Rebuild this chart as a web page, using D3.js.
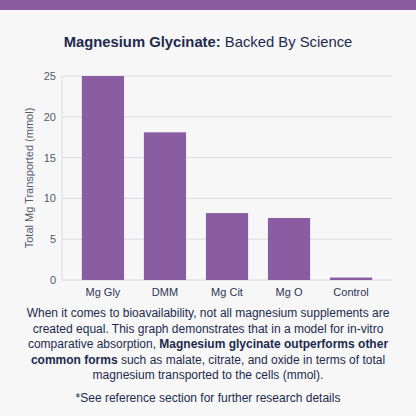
<!DOCTYPE html>
<html><head><meta charset="utf-8">
<script src="https://cdn.jsdelivr.net/npm/d3@7"></script>
<style>body{margin:0;background:#f7f7f8;}svg{display:block;font-family:"Liberation Sans",Arial,sans-serif;}</style>
</head><body><svg id="c" width="416" height="416"></svg>
<script>
var categories = ["Mg Gly", "DMM", "Mg Cit", "Mg O", "Control"];
var values = [25, 18.1, 8.2, 7.6, 0.3];
var yTicks = [0, 5, 10, 15, 20, 25];

var svg = d3.select("#c");
svg.append("rect").attr("width", 416).attr("height", 416).attr("fill", "#f7f7f8");
svg.append("rect").attr("width", 416).attr("height", 10).attr("fill", "#8a5ca2");

var title = svg.append("text").attr("x", 208).attr("y", 47).attr("text-anchor", "middle")
    .attr("font-size", 14.8).attr("fill", "#1d2a4d");
title.append("tspan").attr("font-weight", "bold").text("Magnesium Glycinate:");
title.append("tspan").text(" Backed By Science");

var x = d3.scaleBand().domain(categories).range([62, 392]).paddingInner(0.32).paddingOuter(0.32);
var y = d3.scaleLinear().domain([0, 25]).range([280, 76]);

var g = svg.append("g");
g.selectAll(".grid").data(yTicks).enter().append("line")
    .attr("x1", 62).attr("x2", 392).attr("y1", y).attr("y2", y)
    .attr("stroke", "#dcdce0").attr("stroke-width", 1);
g.append("line").attr("x1", 62).attr("x2", 62).attr("y1", 76).attr("y2", 280).attr("stroke", "#dcdce0");

var yAxis = svg.append("g").attr("transform", "translate(62,0)")
    .call(d3.axisLeft(y).tickValues(yTicks).tickSize(0).tickPadding(6));
yAxis.select(".domain").remove();
yAxis.selectAll("text").attr("font-size", 11).attr("fill", "#555a6e").attr("font-family", "Liberation Sans, Arial, sans-serif");

var xAxis = svg.append("g").attr("transform", "translate(0,280)")
    .call(d3.axisBottom(x).tickSize(0).tickPadding(8));
xAxis.select(".domain").remove();
xAxis.selectAll("text").attr("font-size", 11).attr("fill", "#2d3450").attr("font-family", "Liberation Sans, Arial, sans-serif");

svg.selectAll(".bar").data(values).enter().append("rect")
    .attr("x", function (d, i) { return x(categories[i]); })
    .attr("width", x.bandwidth())
    .attr("y", function (d) { return y(d); })
    .attr("height", function (d) { return y(0) - y(d); })
    .attr("fill", "#8a5ca2");

svg.append("text").attr("transform", "translate(33,178) rotate(-90)").attr("text-anchor", "middle")
    .attr("font-size", 11).attr("fill", "#555a6e").text("Total Mg Transported (mmol)");

var lines = [
    [["When it comes to bioavailability, not all magnesium supplements are", false]],
    [["created equal. This graph demonstrates that in a model for in-vitro", false]],
    [["comparative absorption, ", false], ["Magnesium glycinate outperforms other", true]],
    [["common forms", true], [" such as malate, citrate, and oxide in terms of total", false]],
    [["magnesium transported to the cells (mmol).", false]]
];
lines.forEach(function (ln, i) {
    var t = svg.append("text").attr("x", 208).attr("y", 317 + i * 15.5).attr("text-anchor", "middle")
        .attr("font-size", 12).attr("fill", "#1d2a4d");
    ln.forEach(function (p) {
        t.append("tspan").attr("font-weight", p[1] ? "bold" : "normal").text(p[0]);
    });
});
svg.append("text").attr("x", 208).attr("y", 402).attr("text-anchor", "middle")
    .attr("font-size", 12).attr("fill", "#1d2a4d").text("*See reference section for further research details");
</script></body></html>
